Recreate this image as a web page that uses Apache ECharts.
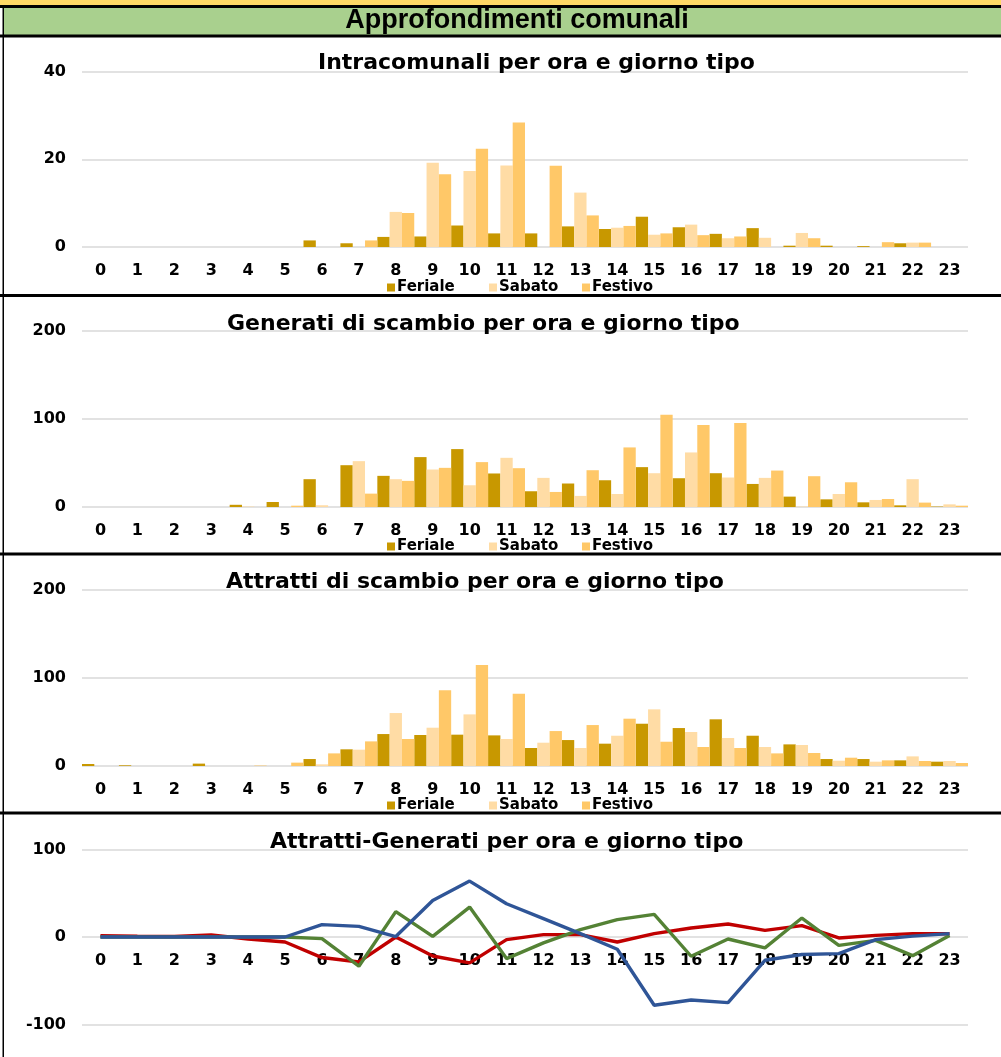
<!DOCTYPE html>
<html><head><meta charset="utf-8">
<script src="https://cdn.jsdelivr.net/npm/echarts@6/dist/echarts.min.js"></script>
<style>html,body{margin:0;padding:0;background:#fff;}#c{width:1001px;height:1057px;}</style>
</head><body><div id="c"></div>
<script>
const hours = ['0','1','2','3','4','5','6','7','8','9','10','11','12','13','14','15','16','17','18','19','20','21','22','23'];
const seriesNames = ['Feriale','Sabato','Festivo'];
const pageTitle = 'Approfondimenti comunali';
const panelTitles = ['Intracomunali per ora e giorno tipo','Generati di scambio per ora e giorno tipo','Attratti di scambio per ora e giorno tipo','Attratti-Generati per ora e giorno tipo'];

const intraFeriale = [0,0,0,0,0,0,1.5,0.85,2.3,2.4,4.9,3.1,3.1,4.7,4.1,6.9,4.5,3.0,4.3,0.3,0.3,0.2,0.85,0];
const intraSabato  = [0,0,0,0,0,0,0,0,8.0,19.2,17.3,18.6,0,12.4,4.4,2.8,5.1,2.0,2.1,3.2,0,0,1.0,0];
const intraFestivo = [0,0,0,0,0,0,0,1.5,7.75,16.6,22.4,28.4,18.5,7.2,4.8,3.1,2.7,2.4,0,2.0,0,1.1,1.0,0];

const genFeriale = [0,0,0,0,2.5,5.7,31.6,47.5,35.4,56.7,65.8,38.1,17.9,26.7,30.4,45.3,32.7,38.4,26.2,11.8,8.7,5.3,1.9,0.5];
const genSabato  = [0,0,0,0,0.5,0,2.0,52.1,31.6,42.6,24.7,55.9,33.1,12.6,14.8,38.4,62.0,33.5,33.1,0.5,14.8,8.0,31.6,3.0];
const genFestivo = [0,0,0,0,0,1.5,0,15.2,29.7,44.5,51.0,44.1,17.1,41.8,67.7,104.9,93.2,95.4,41.4,35.0,28.1,9.1,5.0,1.5];

const attFeriale = [2.3,0.8,0,2.7,0,0,7.9,18.9,36.2,35.1,35.5,34.7,20.4,29.4,25.3,47.9,43.0,52.9,34.3,24.5,7.9,7.9,6.4,4.9];
const attSabato  = [0,0,0,0,0,0,1.9,18.5,60.0,43.4,58.5,30.6,26.4,20.4,34.3,64.2,38.5,31.7,21.5,23.8,6.0,4.9,10.9,5.7];
const attFestivo = [0,0,0,0,0.5,3.8,14.3,27.9,30.6,85.7,114.4,81.9,39.6,46.4,53.6,27.5,21.5,20.4,14.3,14.7,9.4,6.4,5.7,3.4];

const diffFeriale = [1.5,0.8,0.5,2.3,-2.3,-5.7,-23.5,-28.5,0,-21.7,-29.6,-3.0,2.7,2.7,-5.7,3.8,10.3,14.8,7.6,13.0,-1.1,1.9,3.8,3.8];
const diffSabato  = [0,0,0,0,0,0,-1.9,-33.4,29,0.8,34.2,-24.7,-6.7,8.4,19.8,25.9,-22,-2.3,-12.5,21.7,-9.5,-3.8,-21.3,1.7];
const diffFestivo = [0,0,0,0,0,0,14.1,12.2,0.5,41.8,63.9,38,21,3.8,-14,-78,-72,-75,-26.6,-20,-19,-3,1,3.8];

const yMin = [0,0,0,-100];
const yMax = [40,200,200,100];
const yInterval = [20,100,100,100];

const barColors = ['#C89800','#FFDCA5','#FFC868'];
const lineColors = ['#C00000','#548235','#2F5597'];
const FONT = "'DejaVu Sans', Verdana, sans-serif";

const gridTops = [71.5, 331, 589.5, 849.5];
const gridHeights = [175.5, 176, 176.5, 175];
const titleLeft = [313, 222, 221, 265];
const titleTop = [47, 308, 566, 826];
const legendTop = [280, 539, 798];
const legendLeft = [387, 489, 582];

const grids = [], xAxes = [], yAxes = [], series = [], titles = [], legends = [];
for (let i = 0; i < 4; i++) {
  // x axis sits on the value 0 line: for the last panel move it up from the bottom to the zero line
  const zeroOffset = (yMin[i] < 0) ? -gridHeights[i] * (0 - yMin[i]) / (yMax[i] - yMin[i]) : 0;
  grids.push({left: 82, width: 886, top: gridTops[i], height: gridHeights[i], containLabel: false});
  xAxes.push({type: 'category', gridIndex: i, data: hours, position: 'bottom', offset: zeroOffset,
    axisLine: {show: false, onZero: false}, axisTick: {show: false},
    axisLabel: {interval: 0, margin: 16, color: '#000', fontWeight: 'bold', fontSize: 16, fontFamily: FONT}});
  yAxes.push({type: 'value', gridIndex: i, min: yMin[i], max: yMax[i], interval: yInterval[i],
    axisLine: {show: false}, axisTick: {show: false},
    splitLine: {lineStyle: {color: '#D9D9D9', width: 1.5}},
    axisLabel: {margin: 16, color: '#000', fontWeight: 'bold', fontSize: 16, fontFamily: FONT}});
  titles.push({text: panelTitles[i], left: titleLeft[i], top: titleTop[i],
    textStyle: {fontFamily: FONT, fontWeight: 'bold', fontSize: 22, color: '#000'}});
}
const barSets = [[intraFeriale,intraSabato,intraFestivo],[genFeriale,genSabato,genFestivo],[attFeriale,attSabato,attFestivo]];
barSets.forEach((set, gi) => {
  set.forEach((vals, k) => {
    series.push({type: 'bar', name: seriesNames[k], xAxisIndex: gi, yAxisIndex: gi, data: vals,
      barGap: '0%', barCategoryGap: '0%', itemStyle: {color: barColors[k]}, animation: false});
  });
  for (let k = 0; k < 3; k++) {
    legends.push({data: [seriesNames[k]], left: legendLeft[k], top: legendTop[gi], icon: 'rect',
      itemWidth: 8, itemHeight: 8, padding: 0, selectedMode: false,
      textStyle: {fontFamily: FONT, fontWeight: 'bold', fontSize: 15, color: '#000', padding: [0,0,0,-3]}});
  }
});
[diffFeriale, diffSabato, diffFestivo].forEach((vals, k) => {
  series.push({type: 'line', name: seriesNames[k] + ' ', xAxisIndex: 3, yAxisIndex: 3, data: vals,
    symbol: 'none', lineStyle: {color: lineColors[k], width: 3.4}, itemStyle: {color: lineColors[k]}, animation: false});
});

const frame = [
  {type: 'rect', shape: {x: 0, y: 0, width: 1001, height: 6}, style: {fill: '#FFD966'}},
  {type: 'rect', shape: {x: 4, y: 8, width: 997, height: 27}, style: {fill: '#A9D08E'}},
  {type: 'rect', shape: {x: 0, y: 5, width: 1001, height: 3}, style: {fill: '#000'}},
  {type: 'rect', shape: {x: 0, y: 34.5, width: 1001, height: 3}, style: {fill: '#000'}},
  {type: 'rect', shape: {x: 2.5, y: 8, width: 1.5, height: 1049}, style: {fill: '#000'}},
  {type: 'rect', shape: {x: 0, y: 294, width: 1001, height: 3}, style: {fill: '#000'}},
  {type: 'rect', shape: {x: 0, y: 552.5, width: 1001, height: 3}, style: {fill: '#000'}},
  {type: 'rect', shape: {x: 0, y: 811.5, width: 1001, height: 3}, style: {fill: '#000'}},
  {type: 'text', x: 517, y: 21, style: {text: pageTitle, fill: '#000', font: "bold 27px 'Liberation Sans', Arial, sans-serif", textAlign: 'center', textVerticalAlign: 'middle'}}
];

const chart = echarts.init(document.getElementById('c'), null, {renderer: 'canvas'});
chart.setOption({
  backgroundColor: '#fff',
  animation: false,
  title: titles,
  legend: legends,
  grid: grids,
  xAxis: xAxes,
  yAxis: yAxes,
  series: series,
  graphic: frame
});
</script></body></html>
